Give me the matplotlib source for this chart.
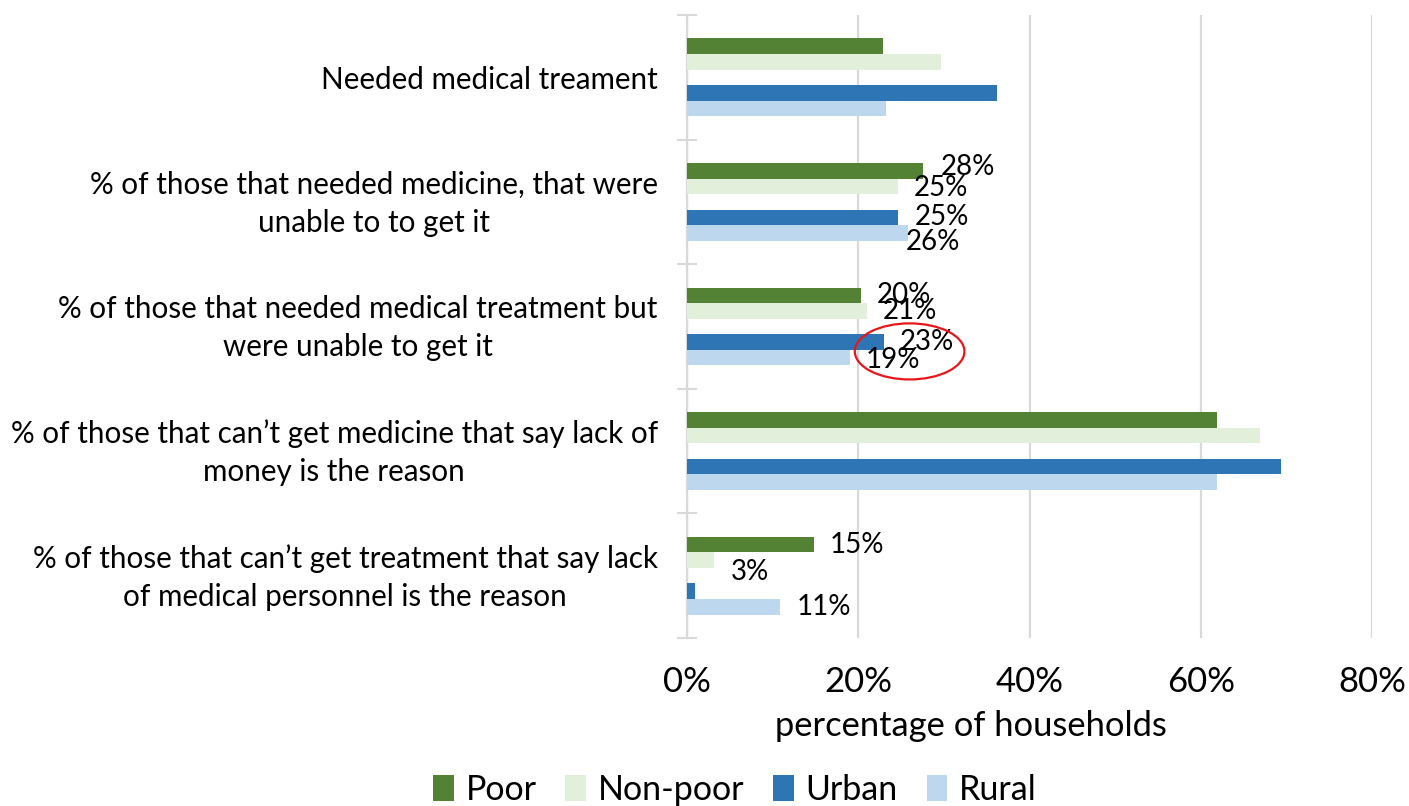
import matplotlib
matplotlib.use("Agg")
import matplotlib.pyplot as plt
import matplotlib.transforms as mtransforms
from matplotlib.patches import Ellipse

plt.rcParams['font.family'] = ['Lato', 'DejaVu Sans']

# data (percent of households)
categories = [
    "Needed medical treament",
    "% of those that needed medicine, that were\nunable to to get it",
    "% of those that needed medical treatment but\nwere unable to get it",
    "% of those that can\u2019t get medicine that say lack of\nmoney is the reason",
    "% of those that can\u2019t get treatment that say lack\nof medical personnel is the reason",
]
series_names = ["Poor", "Non-poor", "Urban", "Rural"]
poor = [22.9, 27.6, 20.3, 61.9, 14.8]
non_poor = [29.7, 24.6, 21.0, 66.9, 3.2]
urban = [36.2, 24.7, 23.0, 69.4, 0.9]
rural = [23.2, 25.8, 19.0, 61.9, 10.9]
# which bars carry a data label (category, series)
labelled = [(1, 0), (1, 1), (1, 2), (1, 3),
            (2, 0), (2, 1), (2, 2), (2, 3),
            (4, 0), (4, 1), (4, 3)]
x_ticks = [0, 20, 40, 60, 80]

colors = ["#548235", "#e2efda", "#2e75b6", "#bdd7ee"]
offsets = [-0.25, -0.125, 0.125, 0.25]
bar_h = 0.125
# manual nudges of some labels (pixels: right, down), as in the original
nudges = {(1, 0): (1, -4), (1, 1): (0, 2), (1, 3): (-18, 9),
          (2, 3): (0, 2), (4, 1): (0, 12)}

fig = plt.figure(figsize=(14.09, 8.06), dpi=100)
ax = fig.add_axes([687 / 1409, 1 - 638 / 806, 685 / 1409, 623 / 806])

values = [poor, non_poor, urban, rural]
for s, vals in enumerate(values):
    ys = [i + offsets[s] for i in range(len(categories))]
    ax.barh(ys, vals, height=bar_h, color=colors[s], label=series_names[s],
            zorder=3)

px = 72 / 100  # points per pixel
for (c, s) in labelled:
    v = values[s][c]
    dx, dy = nudges.get((c, s), (0, 0))
    ax.annotate(f"{round(v)}%", xy=(v, c + offsets[s]),
                xytext=((16 + dx) * px, -dy * px), textcoords="offset points",
                ha="left", va="center", fontsize=20, zorder=5)

# red ring drawn around the urban/rural labels of the third group
ax.add_patch(Ellipse((26.0, 2.2), 12.8, 0.45, fill=False, edgecolor="#e8161b",
                     linewidth=1.6, zorder=6))

ax.set_xlim(0, 80)
ax.set_ylim(len(categories) - 0.5, -0.5)
ax.set_xticks(x_ticks)
ax.set_xticklabels([f"{t}%" for t in x_ticks], fontsize=25)
ax.set_yticks(range(len(categories)))
ax.set_yticklabels(categories, fontsize=21.3, multialignment="center",
                   linespacing=1.45)
ax.set_yticks([i - 0.5 for i in range(len(categories) + 1)], minor=True)
ax.tick_params(axis="y", which="major", length=0, pad=21)
ax.tick_params(axis="y", which="minor", direction="inout", length=14,
               width=1.5, color="#d9d9d9")
ax.tick_params(axis="x", length=0, pad=20)

# two-line labels sit a little high in the original
lift = mtransforms.ScaledTranslation(0, 6 / 100, fig.dpi_scale_trans)
for lab in ax.get_yticklabels():
    if "\n" in lab.get_text():
        lab.set_transform(lab.get_transform() + lift)

ax.grid(axis="x", color="#d9d9d9", linewidth=1.6, zorder=0)
for side in ["top", "right", "bottom"]:
    ax.spines[side].set_visible(False)
ax.spines["left"].set_color("#d9d9d9")
ax.spines["left"].set_linewidth(1.6)

fig.text(971 / 1409, 1 - 726 / 806, "percentage of households",
         ha="center", va="center", fontsize=24.8)

fig.legend(loc="center", bbox_to_anchor=(735 / 1409, 1 - 790 / 806), ncol=4,
           frameon=False, fontsize=24.5, handlelength=0.6, handleheight=0.8,
           handletextpad=0.35, columnspacing=0.85)

fig.savefig("out.png", dpi=100)
